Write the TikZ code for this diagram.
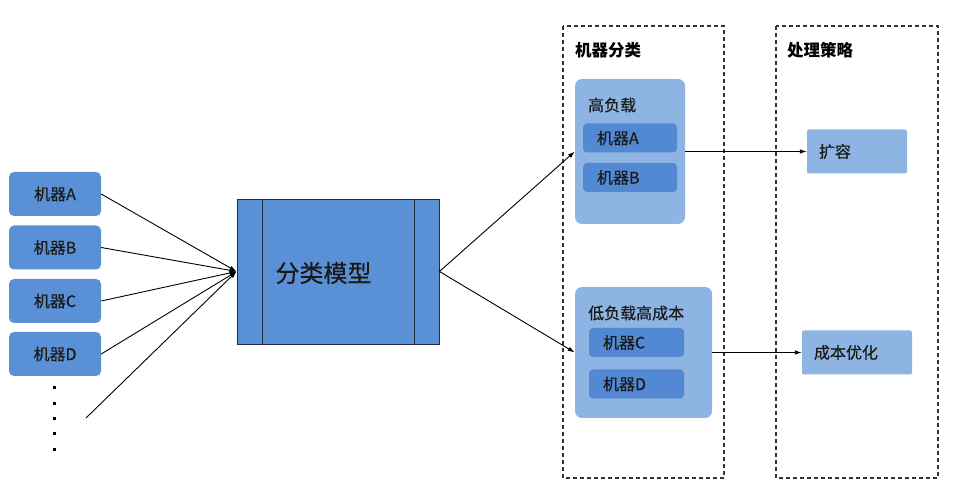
\documentclass[tikz,border=0pt]{standalone}
\usepackage{fontspec}
\setmainfont{Noto Sans CJK SC}
\newfontfamily\medfont{Noto Sans CJK SC}[FakeBold=0.5]
\usetikzlibrary{arrows.meta,calc}
\definecolor{boxBlue}{HTML}{5A90D5}
\definecolor{grpBlue}{HTML}{8DB4E3}
\definecolor{itemBlue}{HTML}{5289D2}
\definecolor{modelEdge}{HTML}{1E2C48}
\definecolor{txtDark}{HTML}{1A1A1A}
\tikzset{
  machine/.style={fill=boxBlue, rounded corners=5pt, minimum width=92pt, minimum height=44pt, text=txtDark, font=\medfont\fontsize{16}{18}\selectfont},
  group/.style={fill=grpBlue, rounded corners=7pt, minimum width=#1, inner sep=0pt},
  item/.style={fill=itemBlue, rounded corners=4pt, minimum height=29pt, text width=#1, inner xsep=14pt, align=left, text=txtDark, font=\medfont\fontsize{16}{18}\selectfont},
  strategy/.style={fill=grpBlue, rounded corners=2pt, minimum height=44pt, text width=#1, inner xsep=12pt, align=left, text=txtDark, font=\medfont\fontsize{16}{18}\selectfont},
  grplabel/.style={anchor=west, inner sep=0pt, text=txtDark, font=\medfont\fontsize{16}{18}\selectfont},
  title/.style={anchor=west, inner sep=0pt, text=black, font=\fontsize{16.5}{18}\selectfont\bfseries},
  panel/.style={draw=black!80, line width=1.1pt, dash pattern=on 4pt off 3pt},
  arr/.style={-{Latex[length=7pt,width=4.5pt]}, line width=0.9pt},
}
\begin{document}
\begin{tikzpicture}[x=1pt, y=-1pt]
\useasboundingbox (0,0) rectangle (975,502);
% panels
\draw[panel] (563,26) rectangle (724,478);
\draw[panel] (776,26) rectangle (938,478);
\node[title] (t1) at (575,50) {机器分类};
\node[title] (t2) at (787,50) {处理策略};
% machines on the left
\node[machine] (ma) at (55,194) {机器A};
\node[machine] (mb) at (55,247.5) {机器B};
\node[machine] (mc) at (55,301) {机器C};
\node[machine] (md) at (55,354) {机器D};
\foreach \y in {388,404,419,434,450}
  \fill (52.5,\y-1.5) rectangle ++(3,3);
\coordinate (more) at (86,418);
% model
\node[draw=modelEdge, line width=0.9pt, fill=boxBlue, minimum width=202pt, minimum height=145pt, inner sep=0pt] (model) at (338,271.5) {};
\draw[modelEdge, line width=0.9pt] ([xshift=26pt]model.north west) -- ([xshift=26pt]model.south west);
\draw[modelEdge, line width=0.9pt] ([xshift=-25pt]model.north east) -- ([xshift=-25pt]model.south east);
\node[text=txtDark, font=\medfont\fontsize{24}{28}\selectfont] (mtext) at (323.5,273) {分类模型};
% groups
\node[group=110pt, minimum height=145pt] (g1) at (630,151.5) {};
\node[grplabel] (g1l) at (588,105) {高负载};
\node[item=66pt] (ia) at (630,138) {机器A};
\node[item=66pt] (ib) at (630,177.5) {机器B};
\node[group=137pt, minimum height=131pt] (g2) at (643.5,352.5) {};
\node[grplabel] (g2l) at (588,313) {低负载高成本};
\node[item=67pt] (ic) at (636.5,342.5) {机器C};
\node[item=67pt] (id) at (636.5,384) {机器D};
% strategies
\node[strategy=76pt] (s1) at (857,151.5) {扩容};
\node[strategy=86pt] (s2) at (857,352.5) {成本优化};
% connectors
\foreach \m in {ma,mb,mc,md}
  \draw[arr] (\m.east) -- (model.west);
\draw[arr] (more) -- (model.west);
\draw[arr] (model.east) -- (g1.west);
\draw[arr] (model.east) -- (g2.west);
\draw[arr] (g1.east) -- (s1.west);
\draw[arr] (g2.east) -- (s2.west);
\end{tikzpicture}
\end{document}
